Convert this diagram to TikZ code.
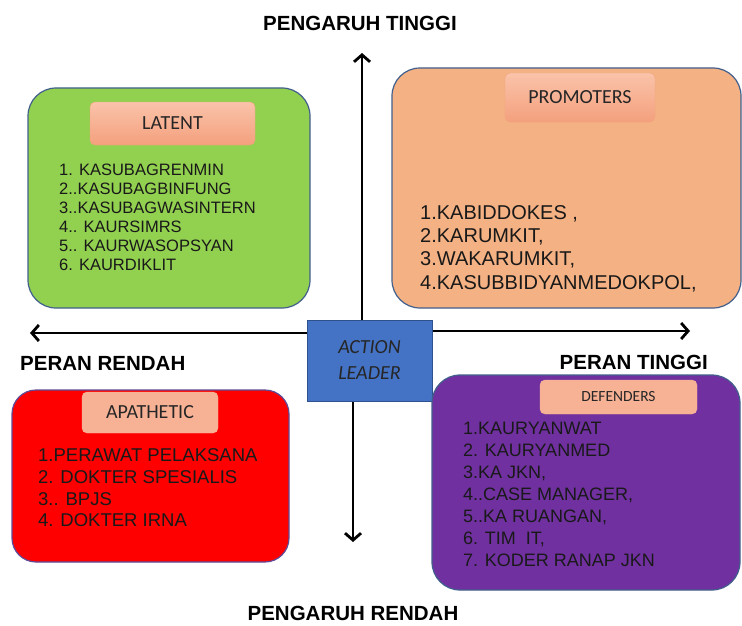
\documentclass[tikz,border=0pt]{standalone}
\usepackage{fontspec}
\setmainfont{Liberation Sans}
\newfontfamily\calibri{Carlito}
\usetikzlibrary{arrows.meta}
\definecolor{latentfill}{RGB}{146,208,80}
\definecolor{promofill}{RGB}{244,177,131}
\definecolor{apathyfill}{RGB}{255,0,0}
\definecolor{defendfill}{RGB}{112,48,160}
\definecolor{leaderfill}{RGB}{68,114,196}
\definecolor{leaderline}{RGB}{47,82,143}
\definecolor{quadline}{RGB}{65,95,140}
\definecolor{tagtop}{RGB}{250,195,170}
\definecolor{tagbot}{RGB}{244,160,125}
\definecolor{tagline}{RGB}{240,165,125}
\definecolor{tagflat}{RGB}{247,178,150}

\begin{document}
\begin{tikzpicture}[
  x=1pt, y=-1pt,
  quad/.style={rectangle, rounded corners=28pt, draw=quadline, line width=1.2pt},
  tag/.style={rectangle, rounded corners=5pt, draw=tagline, top color=tagtop, bottom color=tagbot,
    text=black!85, font=\calibri\fontsize{20}{24}\selectfont},
  flattag/.style={tag, top color=tagflat, bottom color=tagflat, draw=tagflat},
  items/.style={anchor=north west, inner sep=0pt, align=left, text=black!90},
  axislbl/.style={inner sep=0pt, font=\bfseries\fontsize{20.5}{24}\selectfont},
  axis/.style={line width=2.8pt, -{Straight Barb[length=7pt,width=16pt]}}
]
\useasboundingbox (0,0) rectangle (742,626);
% ----- centre -----
\node[rectangle, draw=leaderline, fill=leaderfill, line width=1pt, minimum width=125pt, minimum height=81pt,
  align=center, text=black!85, font=\calibri\itshape\fontsize{20}{26}\selectfont] (leader) at (369.5,360.5) {ACTION\\LEADER};
% ----- axes -----
\coordinate (axW) at (30,333);
\coordinate (axE) at (690,331);
\coordinate (axN) at (362,53);
\coordinate (axS) at (353,542);
\draw[axis] (axW -| leader.west) -- (axW);
\draw[axis] (axE -| leader.east) -- (axE);
\draw[axis] (axN |- leader.north) -- (axN);
\draw[axis] (axS |- leader.south) -- (axS);
\node[axislbl] (hiInf) at (360,23) {PENGARUH TINGGI};
\node[axislbl] (loInf) at (353,613) {PENGARUH RENDAH};
\node[axislbl, anchor=west] (loRole) at (20,363) {PERAN RENDAH};
\node[axislbl, anchor=east] (hiRole) at (708,362) {PERAN TINGGI};
% ----- latent -----
\node[quad, fill=latentfill, minimum width=282pt, minimum height=220pt] (latent) at (169,198) {};
\node[tag, minimum width=165pt, minimum height=43pt] (latentTag) at (172.5,123.5) {LATENT};
\node[items, font=\fontsize{16.5}{19}\selectfont] (latentList) at (59,164)
  {1. KASUBAGRENMIN\\2..KASUBAGBINFUNG\\3..KASUBAGWASINTERN\\4.. KAURSIMRS\\5.. KAURWASOPSYAN\\6. KAURDIKLIT};
% ----- promoters -----
\node[quad, fill=promofill, minimum width=349pt, minimum height=240pt] (promo) at (566.5,188) {};
\node[tag, minimum width=150pt, minimum height=49pt] (promoTag) at (580,97.5) {PROMOTERS};
\node[items, font=\fontsize{20}{23.3}\selectfont] (promoList) at (420,205)
  {1.KABIDDOKES ,\\2.KARUMKIT,\\3.WAKARUMKIT,\\4.KASUBBIDYANMEDOKPOL,};
% ----- apathetic -----
\node[quad, draw={rgb,255:red,95;green,75;blue,150}, fill=apathyfill, rounded corners=24pt,
  minimum width=277pt, minimum height=172pt] (apathy) at (150.5,476) {};
\node[flattag, minimum width=136pt, minimum height=41pt] (apathyTag) at (150,412.5) {APATHETIC};
\node[items, font=\fontsize{18.5}{21.7}\selectfont] (apathyList) at (38,448.5)
  {1.PERAWAT PELAKSANA\\2. DOKTER SPESIALIS\\3.. BPJS\\4. DOKTER IRNA};
% ----- defenders -----
\node[quad, fill=defendfill, minimum width=308pt, minimum height=215pt] (defend) at (586,482.5) {};
\node[flattag, minimum width=157pt, minimum height=34pt, font=\calibri\fontsize{15.5}{18}\selectfont] (defendTag) at (618.5,397) {DEFENDERS};
\node[items, font=\fontsize{18}{22}\selectfont] (defendList) at (463,421.5)
  {1.KAURYANWAT\\2. KAURYANMED\\3.KA JKN,\\4..CASE MANAGER,\\5..KA RUANGAN,\\6. TIM\ \ IT,\\7. KODER RANAP JKN};
\end{tikzpicture}
\end{document}
